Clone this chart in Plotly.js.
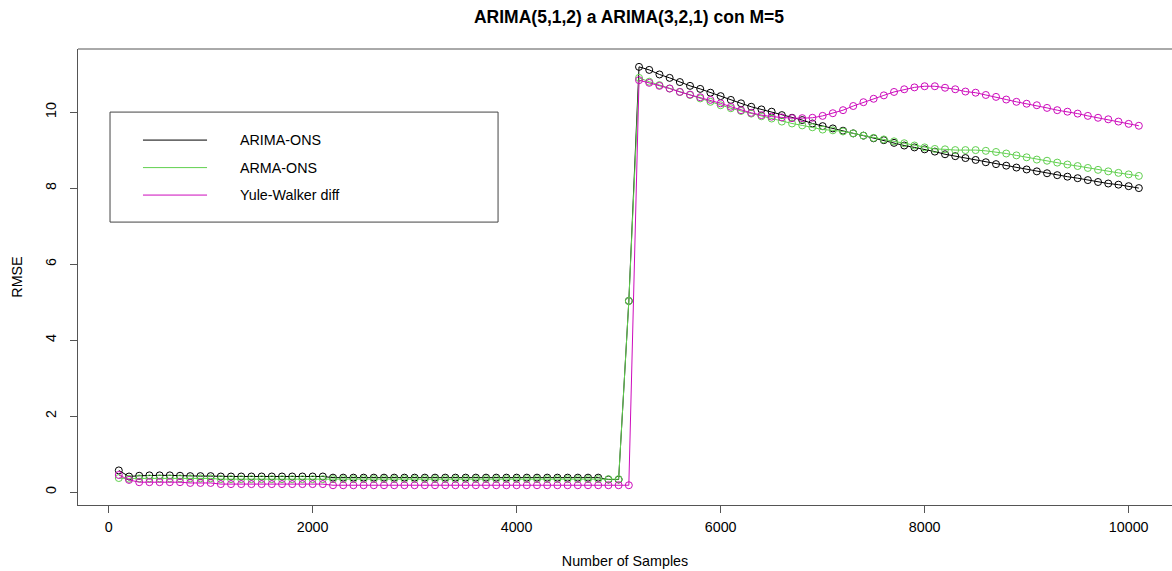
<!DOCTYPE html>
<html>
<head>
<meta charset="utf-8">
<script src="https://cdn.plot.ly/plotly-3.0.1.min.js"></script>
<style>html,body{margin:0;padding:0;background:#fff;}#chart{width:1172px;height:571px;}</style>
</head>
<body>
<div id="chart"></div>
<script>
// Sample counts (x)
var samples = [100,200,300,400,500,600,700,800,900,1000,
1100,1200,1300,1400,1500,1600,1700,1800,1900,2000,
2100,2200,2300,2400,2500,2600,2700,2800,2900,3000,
3100,3200,3300,3400,3500,3600,3700,3800,3900,4000,
4100,4200,4300,4400,4500,4600,4700,4800,4900,5000,
5100,5200,5300,5400,5500,5600,5700,5800,5900,6000,
6100,6200,6300,6400,6500,6600,6700,6800,6900,7000,
7100,7200,7300,7400,7500,7600,7700,7800,7900,8000,
8100,8200,8300,8400,8500,8600,8700,8800,8900,9000,
9100,9200,9300,9400,9500,9600,9700,9800,9900,10000,10100];

var arimaONS = [0.57,0.41,0.43,0.44,0.44,0.44,0.43,0.42,0.42,0.42,
0.41,0.41,0.41,0.41,0.41,0.41,0.41,0.41,0.41,0.41,
0.41,0.38,0.38,0.38,0.38,0.38,0.38,0.38,0.38,0.38,
0.38,0.38,0.38,0.38,0.38,0.38,0.38,0.38,0.38,0.38,
0.38,0.38,0.38,0.38,0.38,0.38,0.38,0.38,0.33,0.33,
5.03,11.19,11.11,10.99,10.90,10.79,10.69,10.61,10.51,10.42,
10.32,10.23,10.14,10.07,10.01,9.92,9.85,9.79,9.70,9.63,
9.57,9.51,9.44,9.38,9.31,9.26,9.19,9.12,9.07,9.02,
8.96,8.89,8.84,8.79,8.74,8.68,8.63,8.59,8.54,8.49,
8.44,8.39,8.34,8.30,8.26,8.21,8.16,8.12,8.09,8.05,8.00];

var armaONS = [0.37,0.35,0.36,0.36,0.36,0.36,0.36,0.36,0.36,0.36,
0.34,0.34,0.34,0.34,0.34,0.34,0.34,0.34,0.34,0.34,
0.34,0.34,0.34,0.34,0.34,0.34,0.34,0.34,0.34,0.34,
0.34,0.34,0.34,0.34,0.34,0.34,0.34,0.34,0.34,0.34,
0.34,0.34,0.34,0.34,0.34,0.34,0.34,0.34,0.34,0.34,
5.03,10.90,10.80,10.71,10.62,10.53,10.45,10.36,10.27,10.18,
10.10,10.03,9.96,9.89,9.83,9.75,9.70,9.65,9.60,9.54,
9.52,9.49,9.44,9.38,9.32,9.28,9.23,9.18,9.12,9.07,
9.03,9.02,9.00,9.00,9.00,8.98,8.95,8.91,8.86,8.81,
8.75,8.72,8.67,8.62,8.58,8.53,8.48,8.44,8.40,8.36,8.32];

var yuleWalker = [0.45,0.32,0.26,0.26,0.26,0.26,0.26,0.24,0.24,0.24,
0.21,0.21,0.21,0.21,0.21,0.21,0.21,0.21,0.21,0.21,
0.21,0.18,0.18,0.18,0.18,0.18,0.18,0.18,0.18,0.18,
0.18,0.18,0.18,0.18,0.18,0.18,0.18,0.18,0.18,0.18,
0.18,0.18,0.18,0.18,0.18,0.18,0.18,0.18,0.18,0.18,
0.18,10.84,10.77,10.69,10.62,10.53,10.46,10.39,10.32,10.23,
10.14,10.05,9.98,9.92,9.88,9.86,9.84,9.84,9.85,9.90,
9.97,10.05,10.16,10.26,10.35,10.44,10.53,10.60,10.65,10.68,
10.68,10.64,10.60,10.54,10.51,10.45,10.40,10.33,10.27,10.22,
10.18,10.11,10.05,10.01,9.96,9.90,9.85,9.81,9.75,9.69,9.64];

var seriesNames = ["ARIMA-ONS","ARMA-ONS","Yule-Walker diff"];
var seriesColors = ["#000000","#61D04F","#CD0BBC"];
var xTicks = [0,2000,4000,6000,8000,10000];
var yTicks = [0,2,4,6,8,10];

var FONT = "Liberation Sans, Arial, Helvetica, sans-serif";
var allSeries = [arimaONS, armaONS, yuleWalker];

var traces = allSeries.map(function(vals, i){
  return {
    x: samples, y: vals, type: "scatter", mode: "lines+markers",
    name: seriesNames[i], showlegend: false,
    line: {color: seriesColors[i], width: 1},
    marker: {symbol: "circle-open", size: 7, color: seriesColors[i], line: {width: 1, color: seriesColors[i]}},
    hoverinfo: "x+y+name"
  };
});

// Legend drawn in data coordinates (R-style legend box)
var legX0 = 14, legX1 = 3818, legY0 = 7.105, legY1 = 10.0;
var legLineX0 = 337, legLineX1 = 965, legTextX = 1269;
var legRowY = [9.263, 8.539, 7.816];

var shapes = [
  {type: "line", xref: "paper", yref: "paper", x0: 0, x1: 1, y0: 1, y1: 1, line: {color: "#555", width: 1}},
  {type: "rect", xref: "x", yref: "y", x0: legX0, x1: legX1, y0: legY0, y1: legY1, line: {color: "#444", width: 1}, fillcolor: "rgba(0,0,0,0)"}
];
var annotations = [];
seriesNames.forEach(function(n, i){
  shapes.push({type: "line", xref: "x", yref: "y", x0: legLineX0, x1: legLineX1, y0: legRowY[i], y1: legRowY[i], line: {color: seriesColors[i], width: 1}});
  annotations.push({xref: "x", yref: "y", x: legTextX, y: legRowY[i], text: n, showarrow: false, xanchor: "left", yanchor: "middle", font: {family: FONT, size: 14.3, color: "#000"}});
});

var layout = {
  width: 1172, height: 571,
  margin: {l: 78, r: 0, t: 49, b: 66, pad: 0},
  paper_bgcolor: "#fff", plot_bgcolor: "#fff",
  font: {family: FONT, size: 14.3, color: "#000"},
  title: {text: "<b>ARIMA(5,1,2) a ARIMA(3,2,1) con M=5</b>", font: {family: FONT, size: 17.5, color: "#000"},
          xref: "container", x: 629/1172, xanchor: "center", yref: "container", y: 1 - 17/571, yanchor: "middle"},
  xaxis: {
    range: [-300, 10425], tickmode: "array", tickvals: xTicks, ticktext: xTicks.map(String),
    ticks: "outside", ticklen: 7, tickcolor: "#555", tickwidth: 1,
    showline: true, linecolor: "#555", linewidth: 1, mirror: false,
    showgrid: false, zeroline: false,
    tickfont: {family: FONT, size: 14.3, color: "#000"},
    ticklabelstandoff: 2,
    title: {text: "Number of Samples", font: {family: FONT, size: 14.3, color: "#000"}, standoff: 21}
  },
  yaxis: {
    range: [-0.34, 11.66], tickmode: "array", tickvals: yTicks, ticktext: yTicks.map(String),
    tickangle: -90,
    ticks: "outside", ticklen: 7, tickcolor: "#555", tickwidth: 1,
    showline: true, linecolor: "#555", linewidth: 1, mirror: false,
    showgrid: false, zeroline: false,
    tickfont: {family: FONT, size: 14.3, color: "#000"},
    ticklabelstandoff: 8,
    title: {text: "RMSE", font: {family: FONT, size: 14.3, color: "#000"}, standoff: 17}
  },
  shapes: shapes,
  annotations: annotations
};

Plotly.newPlot("chart", traces, layout, {displayModeBar: false, staticPlot: true});
</script>
</body>
</html>
